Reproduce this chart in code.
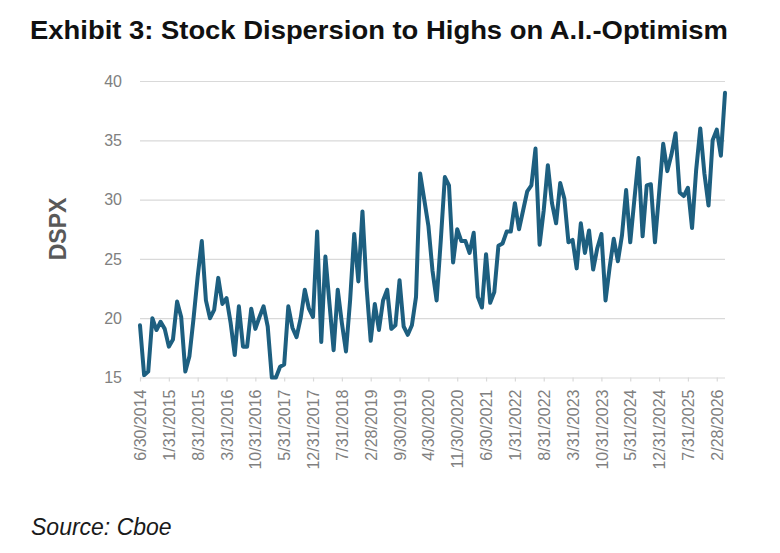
<!DOCTYPE html>
<html>
<head>
<meta charset="utf-8">
<script src="https://cdn.jsdelivr.net/npm/d3@7"></script>
<style>
  body { margin: 0; background: #fff; }
  svg { display: block; font-family: "Liberation Sans", Arial, sans-serif; }
</style>
</head>
<body>
<div id="chart"></div>
<script>
// monthly DSPX readings, first point 6/30/2014
var dspx = [
  19.4, 15.2, 15.5, 20.0, 19.0, 19.7, 19.1, 17.6, 18.2, 21.4, 20.1, 15.5,
  16.8, 20.0, 23.5, 26.5, 21.5, 20.0, 20.7, 23.4, 21.2, 21.7, 19.6, 16.9,
  21.0, 17.6, 17.6, 20.8, 19.1, 20.1, 21.0, 19.3, 15.0, 15.0, 15.9, 16.1,
  21.0, 19.2, 18.4, 20.0, 22.4, 20.8, 20.1, 27.3, 18.0, 25.2, 21.2, 17.3,
  22.4, 19.6, 17.2, 21.5, 27.1, 23.1, 29.0, 22.6, 18.1, 21.2, 19.0, 21.5,
  22.4, 19.1, 19.4, 23.2, 19.3, 18.6, 19.4, 21.8, 32.2, 30.0, 27.8, 24.0,
  21.5, 26.5, 31.9, 31.2, 24.7, 27.5, 26.5, 26.5, 25.5, 27.2, 21.8, 20.9,
  25.4, 21.3, 22.2, 26.1, 26.3, 27.3, 27.3, 29.7, 27.5, 29.1, 30.7, 31.2,
  34.3, 26.2, 29.1, 32.9, 29.7, 28.0, 31.4, 30.1, 26.4, 26.6, 24.2, 28.0,
  25.5, 27.4, 24.1, 25.9, 27.1, 21.5, 24.3, 26.7, 24.8, 27.0, 30.8, 26.4,
  30.0, 33.5, 26.9, 31.2, 31.3, 26.4, 30.5, 34.7, 32.4, 33.8, 35.6, 30.6,
  30.3, 31.0, 27.6, 32.5, 36.0, 32.2, 29.5, 35.0, 35.9, 33.7, 39.0
];

// x tick labels, one every 7 months
var tickLabels = [
  "6/30/2014", "1/31/2015", "8/31/2015", "3/31/2016", "10/31/2016",
  "5/31/2017", "12/31/2017", "7/31/2018", "2/28/2019", "9/30/2019",
  "4/30/2020", "11/30/2020", "6/30/2021", "1/31/2022", "8/31/2022",
  "3/31/2023", "10/31/2023", "5/31/2024", "12/31/2024", "7/31/2025",
  "2/28/2026"
];
var tickStep = 7;

var yTicks = [15, 20, 25, 30, 35, 40];

var width = 780;
var height = 553;

// plot area
var plotLeft = 140;
var plotRight = 725;
var plotTop = 81;
var plotBottom = 377.5;

var svg = d3
  .select("#chart")
  .append("svg")
  .attr("width", width)
  .attr("height", height);

//title
svg
  .append("text")
  .attr("x", 30)
  .attr("y", 39)
  .attr("font-size", 26)
  .attr("font-weight", "bold")
  .attr("fill", "#111")
  .attr("textLength", 698)
  .attr("lengthAdjust", "spacingAndGlyphs")
  .text("Exhibit 3: Stock Dispersion to Highs on A.I.-Optimism");

//scales
var xScale = d3
  .scaleLinear()
  .domain([0, dspx.length - 1])
  .range([plotLeft, plotRight]);

var yScale = d3
  .scaleLinear()
  .domain([15, 40])
  .range([plotBottom, plotTop]);

//gridlines + y labels
var yAxis = d3
  .axisLeft(yScale)
  .tickValues(yTicks)
  .tickSize(-(plotRight - plotLeft))
  .tickPadding(18);

var yG = svg
  .append("g")
  .attr("transform", "translate(" + plotLeft + ",0)")
  .call(yAxis);
yG.select(".domain").remove();
yG.selectAll(".tick line").attr("stroke", "#d9d9d9").attr("stroke-width", 1.2);
yG.selectAll(".tick text")
  .attr("fill", "#808080")
  .attr("font-size", 16)
  .attr("font-family", "'Liberation Sans', Arial, sans-serif");

//x tick marks and rotated labels
var tickIdx = tickLabels.map(function(d, i) {
  return i * tickStep;
});

var xAxis = d3
  .axisBottom(xScale)
  .tickValues(tickIdx)
  .tickSize(4)
  .tickFormat(function(d, i) {
    return tickLabels[i];
  });

var xG = svg
  .append("g")
  .attr("transform", "translate(0," + plotBottom + ")")
  .call(xAxis);
xG.select(".domain").remove();
xG.selectAll(".tick line").attr("stroke", "#d9d9d9").attr("stroke-width", 1.2);
xG.selectAll(".tick text")
  .attr("fill", "#808080")
  .attr("font-size", 16)
  .attr("font-family", "'Liberation Sans', Arial, sans-serif")
  .attr("text-anchor", "end")
  .attr("transform", "rotate(-90)")
  .attr("x", -12)
  .attr("y", 0)
  .attr("dy", "0.35em");

//y axis title
svg
  .append("text")
  .attr("transform", "translate(66,229)rotate(-90)")
  .attr("text-anchor", "middle")
  .attr("font-size", 23)
  .attr("font-weight", "bold")
  .attr("fill", "#595959")
  .text("DSPX");

//the line
var line = d3
  .line()
  .x(function(d, i) {
    return xScale(i);
  })
  .y(function(d) {
    return yScale(d);
  });

svg
  .append("path")
  .datum(dspx)
  .attr("d", line)
  .attr("fill", "none")
  .attr("stroke", "#1d5f80")
  .attr("stroke-width", 4)
  .attr("stroke-linejoin", "round")
  .attr("stroke-linecap", "round");

//source note
svg
  .append("text")
  .attr("x", 31)
  .attr("y", 535)
  .attr("font-size", 23)
  .attr("font-style", "italic")
  .attr("fill", "#1a1a1a")
  .text("Source: Cboe");
</script>
</body>
</html>
